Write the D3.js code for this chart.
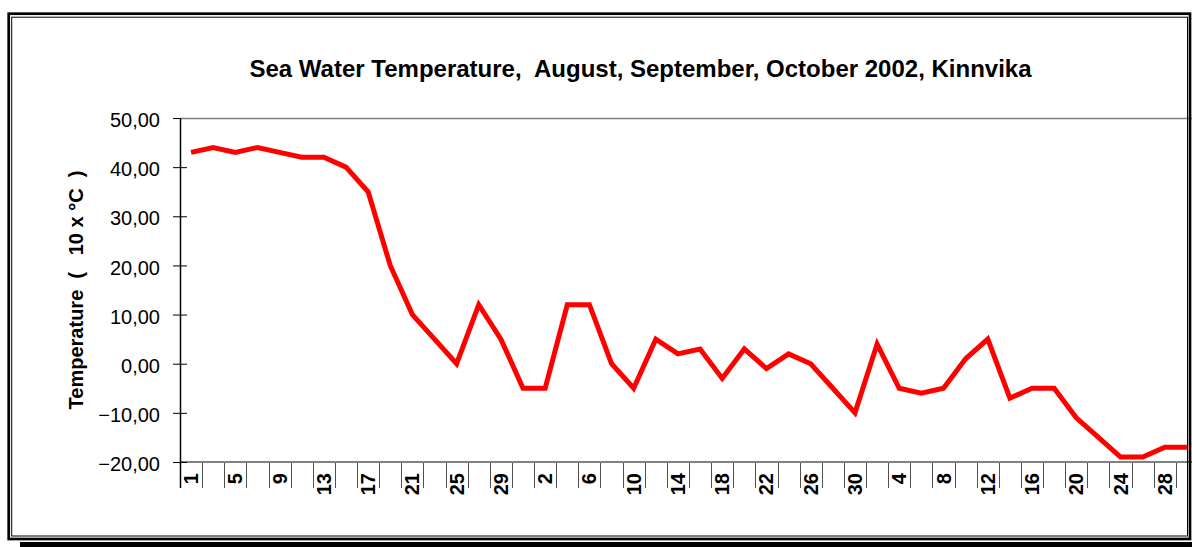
<!DOCTYPE html>
<html>
<head>
<meta charset="utf-8">
<script src="https://cdn.jsdelivr.net/npm/d3@7"></script>
<style>
  html, body { margin: 0; padding: 0; background: #fff; }
  svg { display: block; font-family: Arial, "Liberation Sans", sans-serif; }
</style>
</head>
<body>
<svg id="chart" width="1192" height="547"></svg>
<script>
// Readings every second day: August, September, October 2002
const augDays = [1, 3, 5, 7, 9, 11, 13, 15, 17, 19, 21, 23, 25, 27, 29, 31];
const sepDays = [2, 4, 6, 8, 10, 12, 14, 16, 18, 20, 22, 24, 26, 28, 30];
const octDays = [2, 4, 6, 8, 10, 12, 14, 16, 18, 20, 22, 24, 26, 28, 30];
const days = augDays.concat(sepDays, octDays);

// Sea water temperature, in tenths of a degree Celsius
const temperature = [
  43, 44, 43, 44, 43, 42, 42, 40, 35, 20, 10, 5, 0, 12, 5, -5,
  -5, 12, 12, 0, -5, 5, 2, 3, -3, 3, -1, 2, 0, -5, -10,
  4, -5, -6, -5, 1, 5, -7, -5, -5, -11, -15, -19, -19, -17, -17
];

const yTicks = [-20, -10, 0, 10, 20, 30, 40, 50];
const titleText = "Sea Water Temperature,  August, September, October 2002, Kinnvika";
const yLabelText = "Temperature  (   10 x \u00B0C  )";

const svg = d3.select("#chart");
const W = 1192, H = 547;
const plot = { left: 180, right: 1198, top: 118, bottom: 462 };

svg.append("rect").attr("width", W).attr("height", H).attr("fill", "#fff");

const x = d3.scaleBand()
  .domain(d3.range(days.length))
  .range([plot.left, plot.right])
  .padding(0);

const y = d3.scaleLinear()
  .domain([d3.min(yTicks), d3.max(yTicks)])
  .range([plot.bottom, plot.top]);

// Title
svg.append("text")
  .attr("x", 640.5).attr("y", 76.5)
  .attr("text-anchor", "middle")
  .attr("font-size", 24).attr("font-weight", "bold")
  .attr("fill", "#000")
  .style("white-space", "pre")
  .text(titleText);

// Plot frame: top edge and category axis
svg.append("line")
  .attr("x1", plot.left).attr("x2", plot.right)
  .attr("y1", plot.top + 0.5).attr("y2", plot.top + 0.5)
  .attr("stroke", "#808080").attr("stroke-width", 1.5);

// Category tick marks at band boundaries
const boundaries = d3.range(days.length + 1).map(k => plot.left + k * x.step());
svg.append("g").selectAll("line")
  .data(boundaries)
  .join("line")
  .attr("x1", d => Math.round(d) + 0.5).attr("x2", d => Math.round(d) + 0.5)
  .attr("y1", plot.bottom).attr("y2", plot.bottom + 26)
  .attr("stroke", "#505050").attr("stroke-width", 1);

svg.append("line")
  .attr("x1", plot.left).attr("x2", plot.right)
  .attr("y1", plot.bottom).attr("y2", plot.bottom)
  .attr("stroke", "#808080").attr("stroke-width", 2);

// Category labels, every second reading
svg.append("g").selectAll("text")
  .data(days.map((d, i) => ({ d, i })).filter(o => o.i % 2 === 0))
  .join("text")
  .attr("transform", o => `translate(${x(o.i) + x.bandwidth() / 2},${plot.bottom + 11}) rotate(-90)`)
  .attr("dy", "0.35em")
  .attr("text-anchor", "end")
  .attr("font-size", 20).attr("font-weight", "bold")
  .attr("fill", "#000")
  .text(o => o.d);

// Value axis
const fmt = v => d3.format(".2f")(v).replace(".", ",");
const yAxis = d3.axisLeft(y).tickValues(yTicks).tickSize(7).tickPadding(13).tickFormat(fmt);
const gy = svg.append("g").attr("transform", `translate(${plot.left},0)`).call(yAxis);
gy.select(".domain").remove();
gy.selectAll(".tick line").attr("stroke", "#000");
gy.selectAll(".tick text")
  .attr("font-size", 20).attr("font-family", "Arial, 'Liberation Sans', sans-serif")
  .attr("fill", "#000").attr("dy", "0.43em");
const gy2 = svg.append("g").attr("transform", `translate(${plot.left},0)`)
  .call(d3.axisRight(y).tickValues(yTicks.slice(0, -1)).tickSize(7).tickFormat(""));
gy2.select(".domain").remove();
gy2.selectAll(".tick line").attr("stroke", "#000");

svg.append("line")
  .attr("x1", plot.left + 0.5).attr("x2", plot.left + 0.5)
  .attr("y1", plot.top).attr("y2", plot.bottom + 26)
  .attr("stroke", "#000").attr("stroke-width", 1.5);

// Value axis title
svg.append("text")
  .attr("transform", "translate(83,290) rotate(-90)")
  .attr("text-anchor", "middle")
  .attr("font-size", 20).attr("font-weight", "bold")
  .attr("fill", "#000")
  .style("white-space", "pre")
  .text(yLabelText);

// Temperature line
const line = d3.line()
  .x((d, i) => x(i) + x.bandwidth() / 2)
  .y(d => y(d));
svg.append("path")
  .datum(temperature)
  .attr("d", line)
  .attr("fill", "none")
  .attr("stroke", "#ff0000")
  .attr("stroke-width", 5)
  .attr("stroke-linejoin", "miter");

// Chart area border with shadow
svg.append("rect")
  .attr("x", 20).attr("y", 542).attr("width", W - 20).attr("height", 5)
  .attr("fill", "#000");
svg.append("rect")
  .attr("x", 8.7).attr("y", 13.7).attr("width", 1190 - 8.7).attr("height", 539 - 13.7)
  .attr("fill", "none").attr("stroke", "#000").attr("stroke-width", 2.7);
svg.append("rect")
  .attr("x", 11.7).attr("y", 17.2).attr("width", 1187.5 - 11.7).attr("height", 536 - 17.2)
  .attr("fill", "none").attr("stroke", "#000").attr("stroke-width", 1);
</script>
</body>
</html>
